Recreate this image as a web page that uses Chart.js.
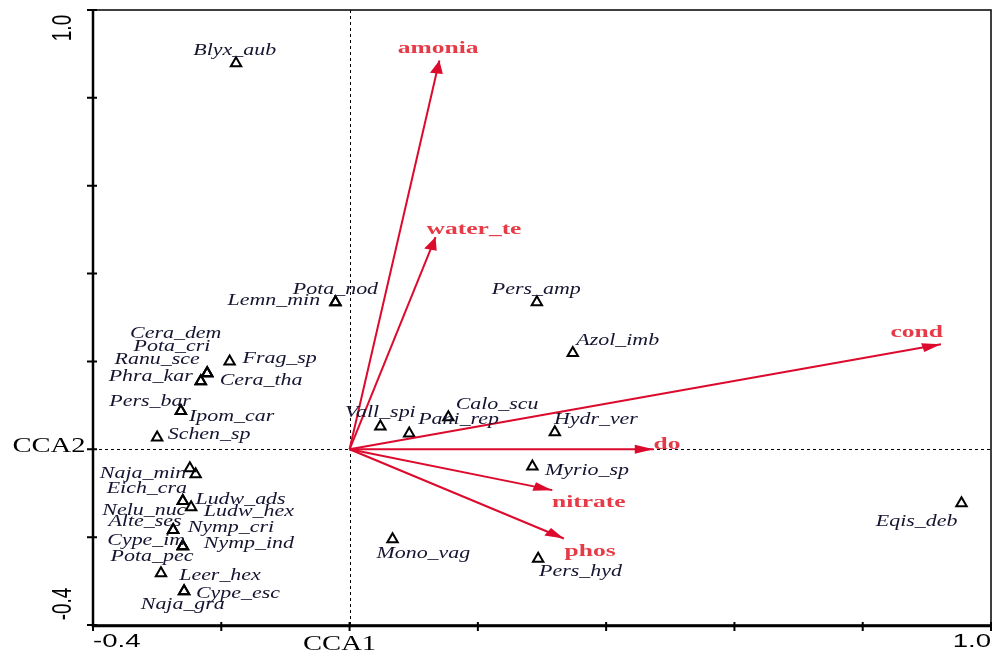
<!DOCTYPE html>
<html>
<head>
<meta charset="utf-8">
<script src="https://cdn.jsdelivr.net/npm/chart.js@4.4.1/dist/chart.umd.min.js"></script>
<style>
  body { margin: 0; background: #fff; }
</style>
</head>
<body>
<canvas id="ccaChart" width="999" height="657"></canvas>
<script>
// species scores (triangles) and where their names sit
const spNames = ['Blyx_aub', 'Pota_nod', 'Lemn_min', 'Cera_dem', 'Pota_cri', 'Ranu_sce', 'Frag_sp',
  'Phra_kar', 'Cera_tha', 'Pers_bar', 'Ipom_car', 'Schen_sp', 'Naja_min', 'Eich_cra', 'Ludw_ads',
  'Nelu_nuc', 'Ludw_hex', 'Alte_ses', 'Nymp_cri', 'Cype_im', 'Nymp_ind', 'Pota_pec', 'Leer_hex',
  'Cype_esc', 'Naja_gra', 'Vall_spi', 'Pani_rep', 'Calo_scu', 'Hydr_ver', 'Myrio_sp', 'Mono_vag',
  'Pers_hyd', 'Pers_amp', 'Azol_imb', 'Eqis_deb'];
const spX = [-0.177, -0.022, -0.022, -0.222, -0.222, -0.232, -0.187, -0.222, -0.232, -0.263, -0.263,
  -0.300, -0.249, -0.240, -0.260, -0.260, -0.247, -0.275, -0.275, -0.260, -0.260, -0.260, -0.294,
  -0.258, -0.258, 0.048, 0.093, 0.154, 0.320, 0.285, 0.067, 0.294, 0.292, 0.348, 0.954];
const spY = [0.879, 0.335, 0.335, 0.173, 0.173, 0.155, 0.200, 0.173, 0.155, 0.087, 0.087,
  0.027, -0.043, -0.057, -0.118, -0.118, -0.132, -0.184, -0.184, -0.221, -0.221, -0.221, -0.282,
  -0.323, -0.323, 0.052, 0.036, 0.073, 0.039, -0.039, -0.205, -0.249, 0.335, 0.219, -0.123];
const spLabelX = [-0.179, -0.022, -0.118, -0.271, -0.277, -0.300, -0.109, -0.310, -0.138, -0.311, -0.184,
  -0.219, -0.322, -0.316, -0.170, -0.320, -0.157, -0.319, -0.185, -0.317, -0.157, -0.308, -0.202,
  -0.174, -0.260, 0.048, 0.170, 0.230, 0.384, 0.370, 0.115, 0.360, 0.291, 0.418, 0.884];
const spLabelY = [0.906, 0.362, 0.337, 0.264, 0.234, 0.203, 0.205, 0.164, 0.155, 0.109, 0.075,
  0.032, -0.055, -0.089, -0.114, -0.141, -0.143, -0.166, -0.178, -0.209, -0.216, -0.244, -0.289,
  -0.330, -0.355, 0.082, 0.066, 0.102, 0.066, -0.050, -0.239, -0.278, 0.364, 0.246, -0.164];

// environmental variable arrows
const envNames = ['amonia', 'water_te', 'cond', 'do', 'nitrate', 'phos'];
const envX = [0.140, 0.134, 0.922, 0.474, 0.316, 0.334];
const envY = [0.885, 0.483, 0.239, 0.0, -0.093, -0.203];
const envLabelX = [0.138, 0.194, 0.884, 0.495, 0.373, 0.375];
const envLabelY = [0.913, 0.499, 0.266, 0.011, -0.121, -0.232];

// axes
const axisMin = -0.4;
const axisMax = 1.0;
const tickValues = [-0.4, -0.2, 0, 0.2, 0.4, 0.6, 0.8, 1.0];
const xTickLabels = ['-0.4', '1.0'];
const yTickLabels = ['1.0', '-0.4'];
const xTitle = 'CCA1';
const yTitle = 'CCA2';

const STRETCH = 1.45; // the picture is wider than its text
const arrowColor = '#dc0a2d';
const envTextColor = '#e63a46';
const spTextColor = '#141430';

function stretchedText(ctx, text, x, y, font, color, sx, align) {
  ctx.save();
  ctx.font = font;
  ctx.fillStyle = color;
  ctx.textAlign = align || 'center';
  ctx.textBaseline = 'middle';
  ctx.translate(x, y);
  ctx.scale(sx, 1);
  ctx.fillText(text, 0, 0);
  ctx.restore();
}

const ccaPlugin = {
  id: 'ccaPlugin',
  beforeDatasetsDraw(chart) {
    const { ctx, chartArea: a, scales: { x, y } } = chart;
    ctx.save();
    ctx.strokeStyle = '#000';
    ctx.lineWidth = 1;
    ctx.setLineDash([3, 3]);
    const x0 = Math.round(x.getPixelForValue(0)) + 0.5;
    const y0 = Math.round(y.getPixelForValue(0)) + 0.5;
    ctx.beginPath();
    ctx.moveTo(x0, a.top);
    ctx.lineTo(x0, a.bottom);
    ctx.moveTo(a.left, y0);
    ctx.lineTo(a.right, y0);
    ctx.stroke();
    ctx.restore();
  },
  afterDatasetsDraw(chart) {
    const { ctx, chartArea: a, scales: { x, y } } = chart;
    const ox = x.getPixelForValue(0);
    const oy = y.getPixelForValue(0);

    // arrow heads
    envNames.forEach((name, i) => {
      const tx = x.getPixelForValue(envX[i]);
      const ty = y.getPixelForValue(envY[i]);
      let dx = (tx - ox) / STRETCH;
      let dy = ty - oy;
      const len = Math.hypot(dx, dy);
      dx /= len; dy /= len;
      const L = 13, W = 4.5;
      const bx = -dx * L, by = -dy * L;
      const p1 = [(bx - dy * W) * STRETCH, by + dx * W];
      const p2 = [(bx + dy * W) * STRETCH, by - dx * W];
      ctx.save();
      ctx.fillStyle = arrowColor;
      ctx.beginPath();
      ctx.moveTo(tx, ty);
      ctx.lineTo(tx + p1[0], ty + p1[1]);
      ctx.lineTo(tx + p2[0], ty + p2[1]);
      ctx.closePath();
      ctx.fill();
      ctx.restore();
      stretchedText(ctx, name, x.getPixelForValue(envLabelX[i]), y.getPixelForValue(envLabelY[i]),
        'bold 17px "Liberation Serif"', envTextColor, 1.5);
    });

    // species names
    spNames.forEach((name, i) => {
      stretchedText(ctx, name, x.getPixelForValue(spLabelX[i]), y.getPixelForValue(spLabelY[i]),
        'italic 16px "Liberation Serif"', spTextColor, 1.37);
    });

    // frame
    ctx.save();
    ctx.strokeStyle = '#000';
    ctx.lineWidth = 1.5;
    ctx.strokeRect(a.left, a.top, a.right - a.left, a.bottom - a.top);
    ctx.lineWidth = 2.5;
    ctx.beginPath();
    ctx.moveTo(a.left, a.top);
    ctx.lineTo(a.left, a.bottom + 1);
    ctx.lineTo(a.right, a.bottom + 1);
    ctx.stroke();
    // ticks
    ctx.lineWidth = 2;
    tickValues.forEach((v) => {
      const py = y.getPixelForValue(v);
      const px = x.getPixelForValue(v);
      ctx.beginPath();
      ctx.moveTo(a.left - 6, py);
      ctx.lineTo(a.left + 4, py);
      ctx.moveTo(px, a.bottom - 3);
      ctx.lineTo(px, a.bottom + 6);
      ctx.stroke();
    });
    ctx.restore();

    // tick labels
    const tickFont = '19px "Liberation Sans"';
    stretchedText(ctx, xTickLabels[0], a.left, a.bottom + 17, tickFont, '#000', 1.45, 'left');
    stretchedText(ctx, xTickLabels[1], a.right, a.bottom + 17, tickFont, '#000', 1.45, 'right');
    [[yTickLabels[0], y.getPixelForValue(axisMax) + 18], [yTickLabels[1], y.getPixelForValue(axisMin) - 21]]
      .forEach(([t, py]) => {
        ctx.save();
        ctx.font = tickFont;
        ctx.fillStyle = '#000';
        ctx.textAlign = 'center';
        ctx.textBaseline = 'middle';
        ctx.translate(63, py);
        ctx.scale(1.45, 1);
        ctx.rotate(-Math.PI / 2);
        ctx.fillText(t, 0, 0);
        ctx.restore();
      });

    // axis titles
    stretchedText(ctx, xTitle, ox - 10, a.bottom + 19, '22px "Liberation Serif"', '#000', 1.3);
    stretchedText(ctx, yTitle, 49, oy - 3, '22px "Liberation Serif"', '#000', 1.3);
  },
};

const arrowSets = envNames.map((name, i) => ({
  type: 'line',
  label: name,
  data: [{ x: 0, y: 0 }, { x: envX[i], y: envY[i] }],
  borderColor: arrowColor,
  borderWidth: 2,
  pointRadius: 0,
  fill: false,
}));

new Chart(document.getElementById('ccaChart'), {
  type: 'scatter',
  data: {
    datasets: [
      ...arrowSets,
      {
        label: 'species',
        data: spX.map((v, i) => ({ x: v, y: spY[i] })),
        pointStyle: 'triangle',
        pointRadius: 6,
        borderColor: '#000',
        borderWidth: 2,
        backgroundColor: 'rgba(0,0,0,0)',
      },
    ],
  },
  options: {
    responsive: false,
    animation: false,
    layout: { padding: { top: 10, right: 6, left: 0, bottom: 0 } },
    plugins: { legend: { display: false }, tooltip: { enabled: false } },
    scales: {
      x: {
        type: 'linear',
        min: axisMin,
        max: axisMax,
        ticks: { display: false },
        grid: { display: false },
        border: { display: false },
        afterFit: (s) => { s.height = 32; },
      },
      y: {
        type: 'linear',
        min: axisMin,
        max: axisMax,
        ticks: { display: false },
        grid: { display: false },
        border: { display: false },
        afterFit: (s) => { s.width = 93; },
      },
    },
  },
  plugins: [ccaPlugin],
});
</script>
</body>
</html>
